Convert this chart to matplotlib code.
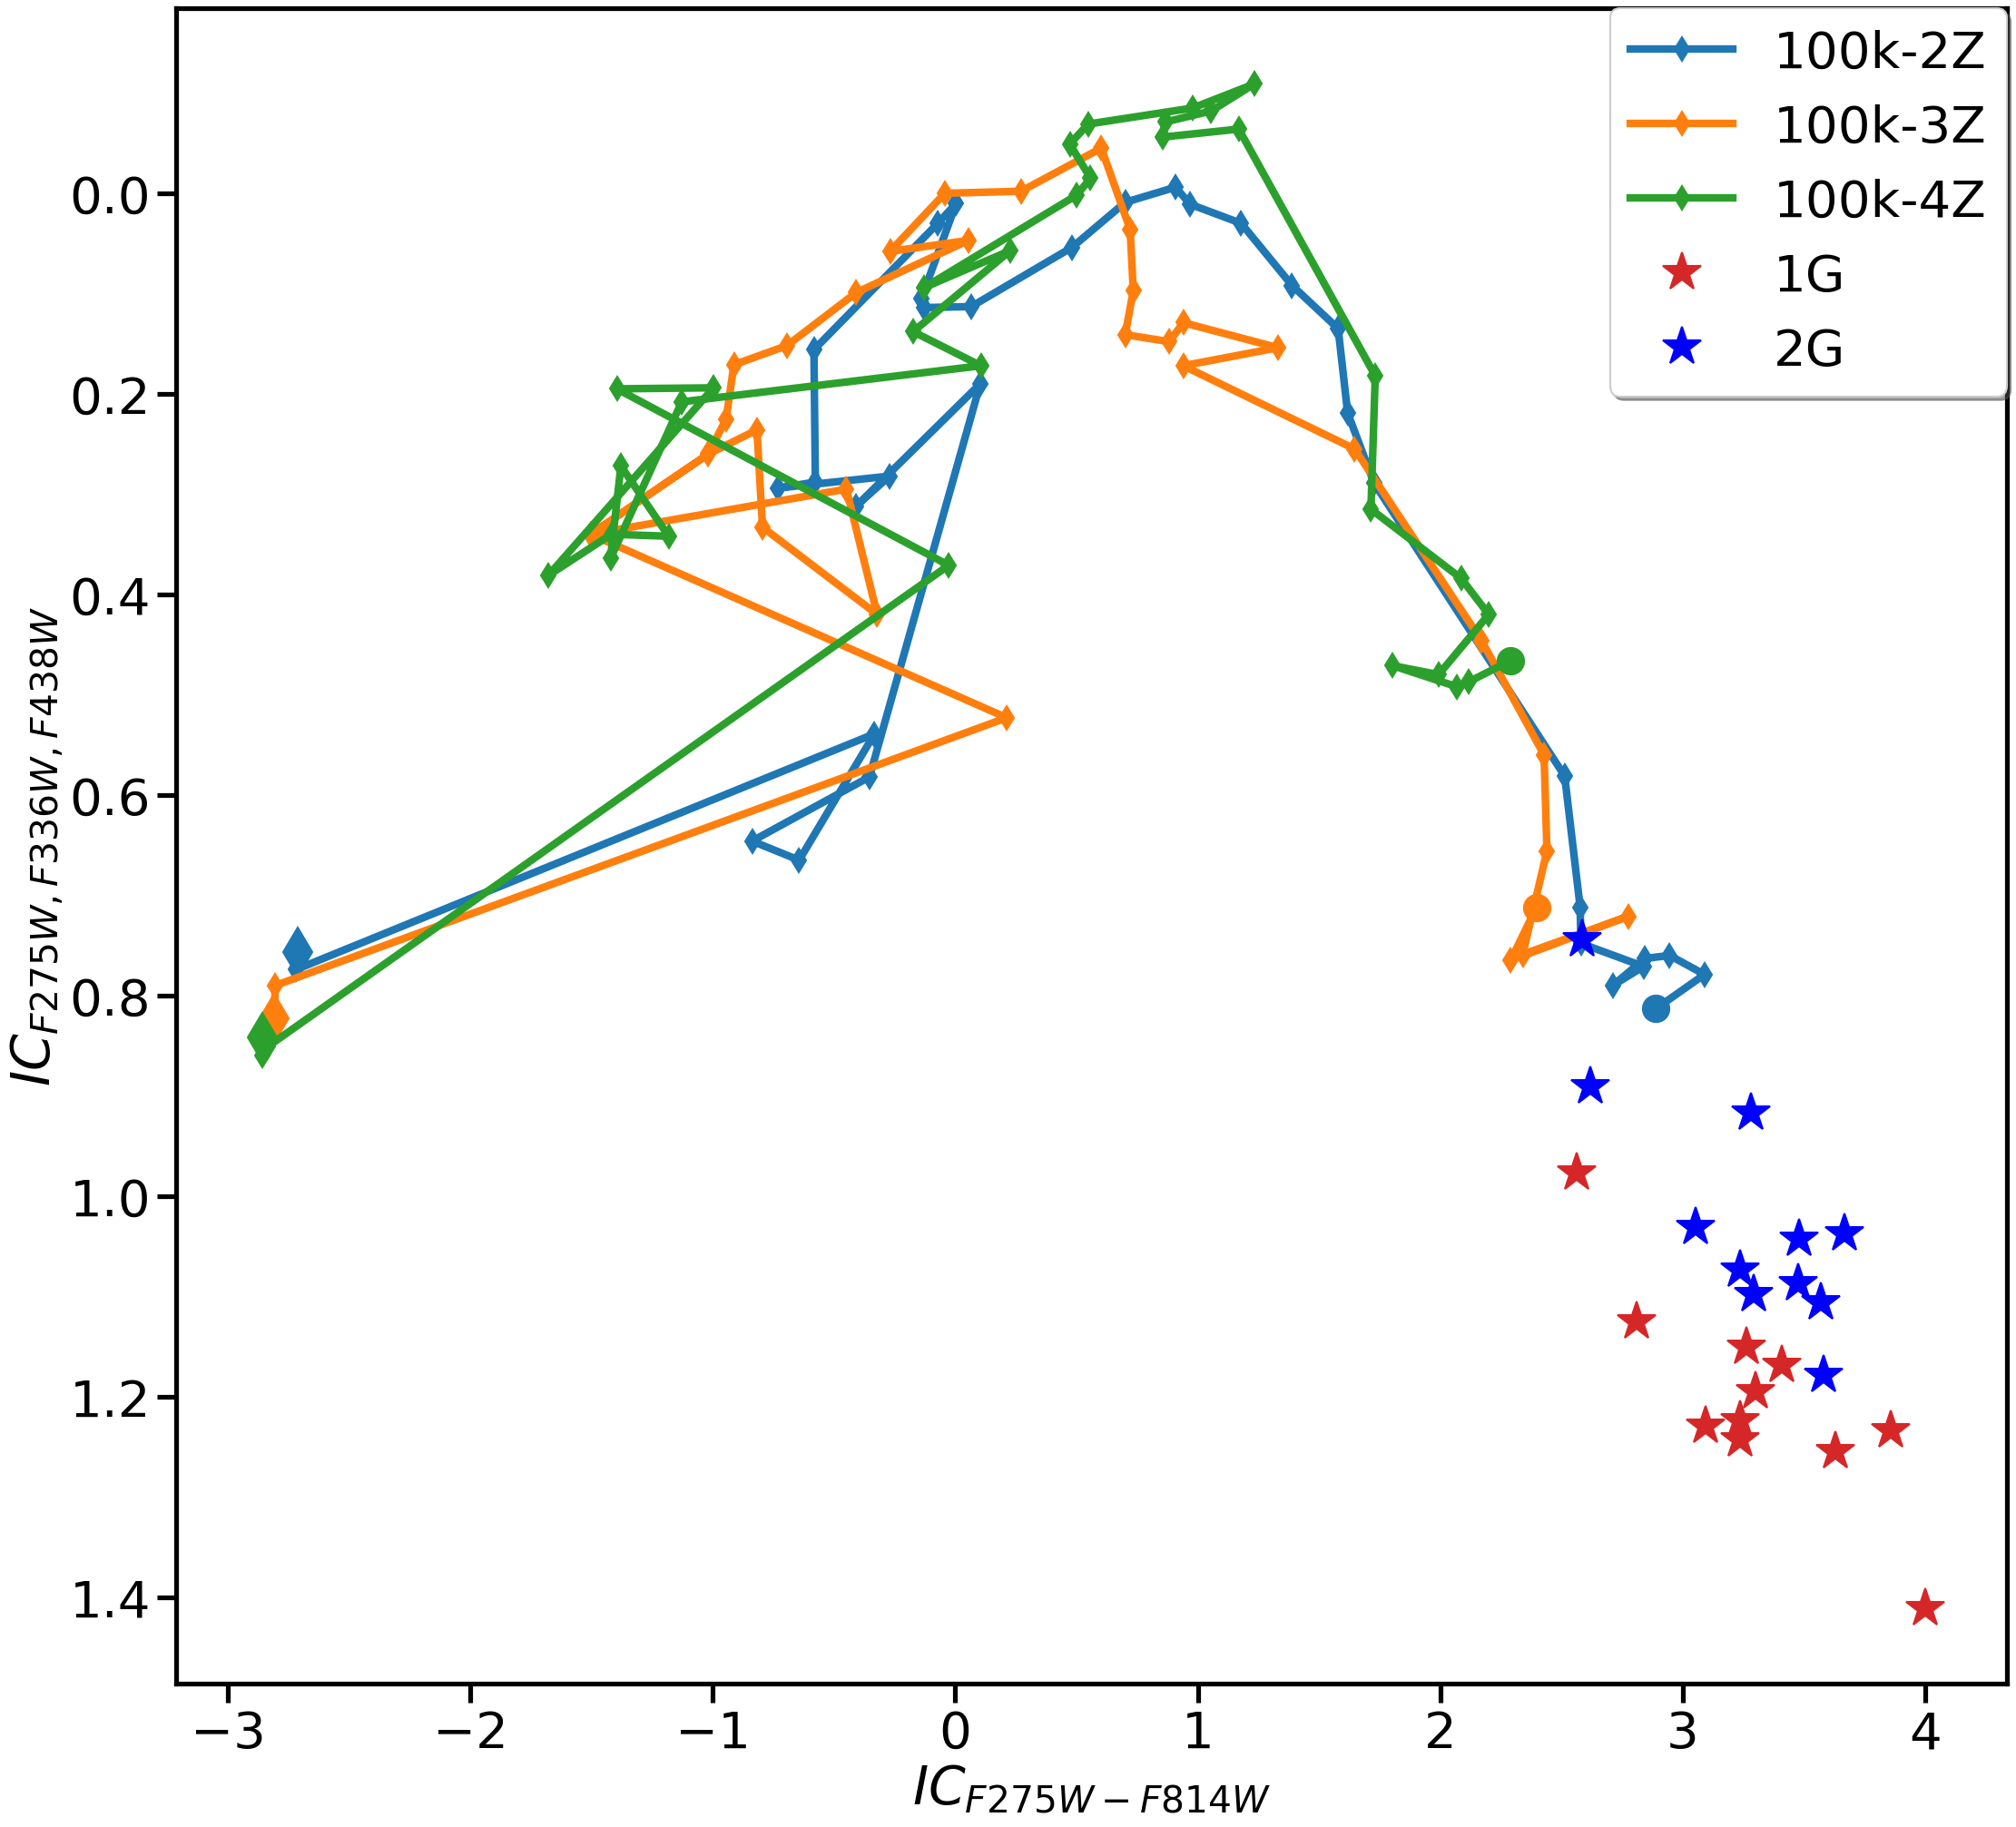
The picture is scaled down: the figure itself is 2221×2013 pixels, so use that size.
import matplotlib
matplotlib.use("Agg")
import matplotlib.pyplot as plt

# Colour-index tracks. First point = start (circle),
# last point = end (large diamond).
x_2z = [2.890, 3.090, 2.946, 2.845, 2.711, 2.839, 2.580, 2.577, 2.513, 1.727,
        1.618, 1.579, 1.389, 1.179, 0.969, 0.908, 0.701, 0.481, 0.066, -0.128,
        -0.140, 0.004, -0.072, -0.583, -0.577, -0.733, -0.271, -0.409, 0.103,
        -0.354, -0.838, -0.644, -0.333, -2.718, -2.711]
y_2z = [0.813, 0.779, 0.760, 0.763, 0.790, 0.771, 0.748, 0.712, 0.581, 0.289,
        0.219, 0.135, 0.092, 0.030, 0.011, -0.006, 0.009, 0.054, 0.113, 0.114,
        0.105, 0.010, 0.030, 0.156, 0.288, 0.294, 0.282, 0.312, 0.190,
        0.582, 0.646, 0.665, 0.539, 0.774, 0.757]

x_3z = [2.397, 2.290, 2.775, 2.340, 2.440, 2.428, 2.170, 1.647, 0.940, 1.331,
        0.940, 0.883, 0.701, 0.734, 0.721, 0.602, 0.271, -0.043, -0.269, 0.054,
        -0.408, -0.695, -0.913, -0.945, -1.018, -1.504, -1.018, -0.818, -0.795,
        -0.322, -0.449, -1.504, 0.212, -2.804, -2.810]
y_3z = [0.712, 0.765, 0.721, 0.759, 0.656, 0.560, 0.446, 0.255, 0.172, 0.154,
        0.129, 0.148, 0.141, 0.097, 0.036, -0.045, -0.002, 0.000, 0.058, 0.047,
        0.099, 0.152, 0.171, 0.225, 0.260, 0.340, 0.260, 0.236, 0.333,
        0.420, 0.295, 0.340, 0.523, 0.790, 0.823]

x_4z = [2.290, 2.119, 2.068, 1.803, 1.993, 2.200, 2.086, 1.714, 1.732, 1.169,
        0.855, 0.865, 1.055, 1.233, 0.979, 0.548, 0.472, 0.558, 0.500, -0.128,
        0.228, -0.174, 0.106, -1.128, -1.422, -1.379, -1.182, -1.418, -1.678,
        -0.997, -1.396, -0.027, -2.836, -2.858, -2.858]
y_4z = [0.466, 0.487, 0.492, 0.471, 0.480, 0.420, 0.384, 0.315, 0.182, -0.064,
        -0.056, -0.071, -0.082, -0.109, -0.085, -0.069, -0.049, -0.015, 0.002, 0.094,
        0.057, 0.138, 0.172, 0.208, 0.364, 0.272, 0.342, 0.340, 0.381,
        0.194, 0.195, 0.371, 0.851, 0.860, 0.842]

# observed stars
x_1g = [2.561, 2.808, 3.264, 3.409, 3.301, 3.095, 3.235, 3.237, 3.630, 3.859, 4.000]
y_1g = [0.977, 1.125, 1.150, 1.168, 1.195, 1.229, 1.224, 1.243, 1.254, 1.234, 1.411]
x_2g = [2.584, 2.617, 3.282, 3.054, 3.478, 3.666, 3.235, 3.291, 3.475, 3.568, 3.582]
y_2g = [0.744, 0.891, 0.917, 1.031, 1.043, 1.037, 1.073, 1.098, 1.087, 1.106, 1.178]

tracks = [
    (x_2z, y_2z, "tab:blue", "100k-2Z"),
    (x_3z, y_3z, "tab:orange", "100k-3Z"),
    (x_4z, y_4z, "tab:green", "100k-4Z"),
]

plt.rcParams.update({
    "axes.linewidth": 2.5,
    "xtick.major.size": 10, "ytick.major.size": 10,
    "xtick.major.width": 2.5, "ytick.major.width": 2.5,
    "xtick.labelsize": 27, "ytick.labelsize": 27,
})

fig = plt.figure(figsize=(2221 / 150, 2014 / 150), dpi=150)
ax = fig.add_axes([0.0874, 0.0785, 0.9081, 0.9165])

for x, y, c, lab in tracks:
    ax.plot(x, y, "-d", color=c, lw=4, ms=9, label=lab)
    ax.plot(x[0], y[0], "o", color=c, ms=14)
    ax.plot(x[-1], y[-1], "d", color=c, ms=18)

ax.plot(x_1g, y_1g, "*", ls="none", color="tab:red", ms=21, label="1G")
ax.plot(x_2g, y_2g, "*", ls="none", color="blue", ms=21, label="2G")

ax.set_xlim(-3.213, 4.337)
ax.set_ylim(1.486, -0.1845)
ax.set_yticks([0.0, 0.2, 0.4, 0.6, 0.8, 1.0, 1.2, 1.4])
ax.set_xlabel(r"$IC_{F275W-F814W}$", fontsize=28, labelpad=2)
ax.set_ylabel(r"$IC_{F275W,F336W,F438W}$", fontsize=28, labelpad=2)
ax.legend(loc="upper right", fontsize=27, borderaxespad=0.0, shadow=True)

fig.savefig("out.png", dpi=150)
